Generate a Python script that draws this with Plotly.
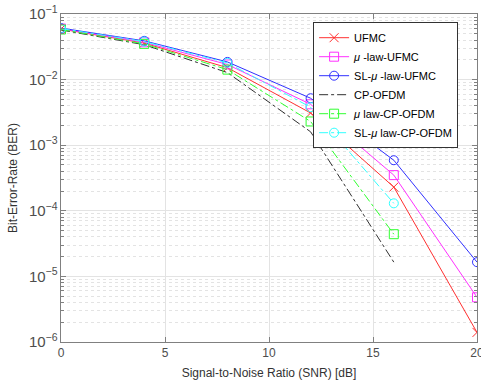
import plotly.graph_objects as go

snr = [0, 4, 8, 12, 16, 20]
snr_ofdm = [0, 4, 8, 12, 16]

ufmc = [0.059, 0.036, 0.0152, 0.0031, 2.3e-4, 1.4e-6]
mu_ufmc = [0.060, 0.037, 0.0170, 0.0042, 3.5e-4, 4.8e-6]
sl_mu_ufmc = [0.061, 0.039, 0.0186, 0.0052, 5.9e-4, 1.65e-5]
cp_ofdm = [0.057, 0.034, 0.0128, 0.0016, 1.65e-5]
mu_cp_ofdm = [0.058, 0.035, 0.0142, 0.0023, 4.4e-5]
sl_mu_cp_ofdm = [0.060, 0.038, 0.0180, 0.0038, 1.3e-4]

names = ["UFMC", "<i>μ</i> -law-UFMC", "SL-<i>μ</i> -law-UFMC", "CP-OFDM",
         "<i>μ</i> law-CP-OFDM", "SL-<i>μ</i> law-CP-OFDM"]

series = [
    (snr, ufmc, "#ff3030", "solid", "x-thin-open"),
    (snr, mu_ufmc, "#ff30ff", "solid", "square-open"),
    (snr, sl_mu_ufmc, "#3030ff", "solid", "circle-open"),
    (snr_ofdm, cp_ofdm, "#303030", "dashdot", None),
    (snr_ofdm, mu_cp_ofdm, "#30ff30", "dashdot", "square-open"),
    (snr_ofdm, sl_mu_cp_ofdm, "#30ffff", "dashdot", "circle-open"),
]

fig = go.Figure()
for name, (xs, ys, col, dash, sym) in zip(names, series):
    if sym is None:
        fig.add_trace(go.Scatter(x=xs, y=ys, name=name, mode="lines",
                                 line=dict(color=col, width=1, dash=dash)))
    else:
        fig.add_trace(go.Scatter(x=xs, y=ys, name=name, mode="lines+markers",
                                 line=dict(color=col, width=1, dash=dash),
                                 marker=dict(symbol=sym, size=9, color=col,
                                             line=dict(color=col, width=1))))

axis_common = dict(showline=True, linecolor="#808080", linewidth=1,
                   ticks="inside", tickcolor="#808080", ticklen=5,
                   tickfont=dict(family="Liberation Sans, Arial", size=12, color="#4d4d4d"),
                   showgrid=True, gridcolor="#e3e3e3", gridwidth=1, zeroline=False,
                   automargin=False)

fig.update_xaxes(range=[0, 20], dtick=5, mirror="ticks", ticklabeloverflow="allow",
                 title=dict(text="Signal-to-Noise Ratio (SNR) [dB]", standoff=9,
                            font=dict(family="Liberation Sans, Arial", size=12, color="#333333")),
                 **axis_common)
fig.update_yaxes(type="log", range=[-6, -1], dtick=1, exponentformat="power",
                 mirror="allticks",
                 minor=dict(showgrid=True, gridcolor="#e3e3e3", griddash="dot",
                            ticks="inside", ticklen=3, tickcolor="#808080"),
                 title=dict(text="Bit-Error-Rate (BER)", standoff=8,
                            font=dict(family="Liberation Sans, Arial", size=12, color="#333333")),
                 **axis_common)

fig.update_layout(
    width=481, height=385,
    margin=dict(l=61, r=4, t=14, b=43),
    plot_bgcolor="white", paper_bgcolor="white",
    font=dict(family="Liberation Sans, Arial", size=11, color="#000000"),
    legend=dict(x=0.606, y=0.975, xanchor="left", yanchor="top",
                bgcolor="white", bordercolor="#333333", borderwidth=1,
                font=dict(size=11), tracegroupgap=0),
    showlegend=True,
)

fig.write_html("out.html")
